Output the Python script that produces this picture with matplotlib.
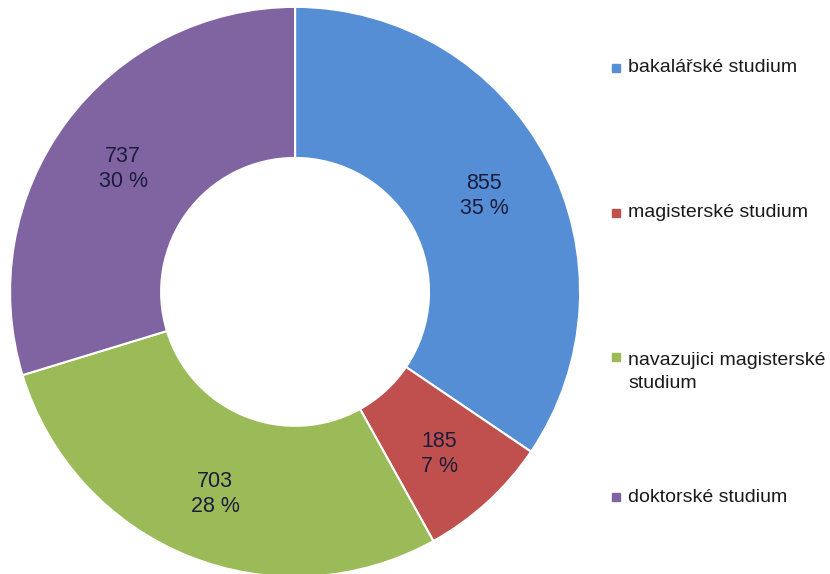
import numpy as np
import matplotlib.pyplot as plt
from matplotlib.patches import Rectangle

# data
labels = ['bakalářské studium', 'magisterské studium',
          'navazujici magisterské\nstudium', 'doktorské studium']
values = [855, 185, 703, 737]
pcts = ['35 %', '7 %', '28 %', '30 %']
colors = ['#558ED5', '#C0504D', '#9BBB59', '#8064A2']

plt.rcParams['font.family'] = ['Liberation Sans', 'DejaVu Sans']

fig = plt.figure(figsize=(8.3, 5.74), dpi=100)
ax = fig.add_axes([0.012, -0.005, 0.687, 0.993])

wedges, _ = ax.pie(values, colors=colors, startangle=90, counterclock=False,
                   radius=1, wedgeprops=dict(width=0.53, edgecolor='white', linewidth=1.5))
ax.set_xlim(-1, 1)
ax.set_ylim(-1, 1)
ax.set_aspect('equal')

# data labels in the middle of each ring segment
total = sum(values)
ang0 = 90
for v, p in zip(values, pcts):
    sweep = v / total * 360
    mid = np.deg2rad(ang0 - sweep / 2)
    ang0 -= sweep
    r = 0.75
    ax.text(r * np.cos(mid), r * np.sin(mid) - 0.015, f'{v}\n{p}', ha='center', va='center',
            fontsize=15.5, color='#1c1c3c', linespacing=1.25)

# legend drawn by hand
ys = [68, 213, 372, 497]
marker_ys = [68, 213, 357, 497]
for lab, c, y, my in zip(labels, colors, ys, marker_ys):
    fig.add_artist(Rectangle((612 / 830, 1 - (my + 4) / 574), 8 / 830, 8 / 574,
                             transform=fig.transFigure, color=c))
    fig.text(628 / 830, 1 - y / 574, lab, ha='left', va='center',
             fontsize=14, color='#1a1a1a', linespacing=1.45)

fig.savefig('out.png', dpi=100)
